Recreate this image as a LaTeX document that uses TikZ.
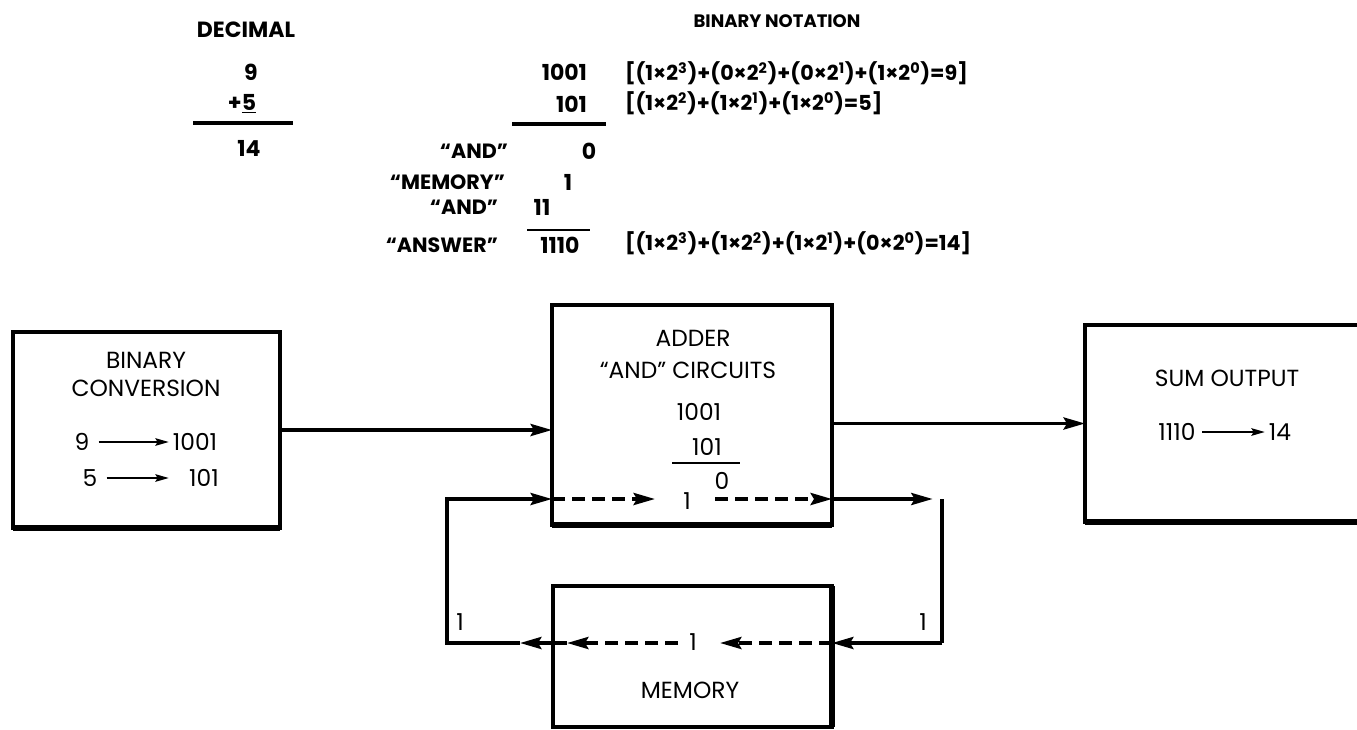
\documentclass[tikz,border=0pt]{standalone}
\usepackage{fontspec}
\setmainfont{Poppins}
\usetikzlibrary{arrows.meta}
\begin{document}
\begin{tikzpicture}[x=0.75pt,y=-0.75pt,
  every node/.style={inner sep=0pt, outer sep=0pt},
  boxf/.style={font=\fontsize{17.5}{19}\selectfont},
  topf/.style={font=\fontsize{15.5}{17}\selectfont\bfseries},
  headf/.style={font=\fontsize{13.5}{15}\selectfont\bfseries},
  numf/.style={font=\fontsize{16.5}{18}\selectfont\bfseries},
  frmf/.style={font=\fontsize{15.5}{17}\selectfont\bfseries},
  frame/.style={draw, line width=3.2pt},
  conn/.style={line width=2.8pt},
  tip/.style={-{Stealth[length=16pt,width=9pt,inset=2.5pt]}},
  smalltip/.style={line width=1.8pt,-{Stealth[length=10pt,width=5.5pt,inset=1.5pt]}},
  dashline/.style={line width=2.8pt, dash pattern=on 10pt off 5pt},
]
\useasboundingbox (0,0) rectangle (1357,729);

% ---------- top: decimal ----------
\node[topf, font=\fontsize{16.5}{18}\selectfont\bfseries] (dec) at (246,30) {DECIMAL};
\node[numf] (d9) at (251,72) {9};
\node[numf] (d5) at (242,104) {+\underline{5}};
\draw[line width=3.2pt] (193,123) -- (293,123);
\node[numf] (d14) at (249,148) {14};

% ---------- top: binary ----------
\node[headf] (bnot) at (777,21) {BINARY NOTATION};
\node[numf,anchor=east] (b1001) at (587,72) {1001};
\node[numf,anchor=east] (b101) at (587,104) {101};
\draw[line width=3.2pt] (512,124) -- (606,124);
\node[topf,anchor=east] (land) at (508,151) {“AND”};
\node[numf] (v0) at (589,151) {0};
\node[topf,anchor=east] (lmem) at (505,182) {“MEMORY”};
\node[numf] (v1) at (568,182) {1};
\node[topf,anchor=east] (land2) at (498,207) {“AND”};
\node[numf] (v11) at (542,207) {11};
\node[topf,anchor=east] (lans) at (498,245) {“ANSWER”};
\node[numf] (v1110) at (560,245) {1110};
\draw[line width=2.2pt] (527,230) -- (590,230);

\node[frmf,anchor=west] (f1) at (625,73) {[(1×2\textsuperscript{3})+(0×2\textsuperscript{2})+(0×2\textsuperscript{1})+(1×2\textsuperscript{0})=9]};
\node[frmf,anchor=west] (f2) at (625,103) {[(1×2\textsuperscript{2})+(1×2\textsuperscript{1})+(1×2\textsuperscript{0})=5]};
\node[frmf,anchor=west] (f3) at (625,243) {[(1×2\textsuperscript{3})+(1×2\textsuperscript{2})+(1×2\textsuperscript{1})+(0×2\textsuperscript{0})=14]};

% ---------- boxes ----------
\node[frame, minimum width=200.25pt, minimum height=147pt] (bc) at (146.5,430) {};
\draw[line width=5pt] (bc.south west) -- (bc.south east);
\node[boxf] (bct1) at (146,360) {BINARY};
\node[boxf] (bct2) at (146,388) {CONVERSION};
\node[boxf] (c9) at (82,442) {9};
\node[boxf] (c1001) at (195,442) {1001};
\node[boxf] (c5) at (90,478) {5};
\node[boxf] (c101) at (204,478) {101};
\draw[smalltip] ([xshift=7pt]c9.east) -- ([xshift=-3pt]c1001.west);
\draw[smalltip] ([xshift=7pt]c5.east |- c5.east) -- ([xshift=-3pt]c1001.west |- c101.west);

\node[frame, minimum width=210pt, minimum height=165pt] (adder) at (692,415) {};
\draw[line width=5pt] (adder.south west) -- (adder.south east);
\node[boxf] (at1) at (693,338) {ADDER};
\node[boxf] (at2) at (688,370) {“AND” CIRCUITS};
\node[boxf] (a1001) at (699,412) {1001};
\node[boxf] (a101) at (707,447) {101};
\draw[line width=1.8pt] (672,463) -- (740,463);
\node[boxf] (a0) at (722,481) {0};

\node[frame, minimum width=209.25pt, minimum height=105.75pt] (mem) at (692.5,656.5) {};
\draw[line width=5pt] (mem.north east) -- (mem.south east);
\node[boxf] (memt) at (690,690) {MEMORY};

\node[minimum width=232.5pt, minimum height=147.75pt] (sum) at (1240,423.5) {};
\draw[frame] (1357,325) -- (sum.north west) -- (sum.south west) -- (1357,522);
\draw[line width=5pt] (sum.south west) -- (1357,522);
\node[boxf] (st1) at (1227,378) {SUM OUTPUT};
\node[boxf] (s1110) at (1177,432) {1110};
\node[boxf] (s14) at (1280,432) {14};
\draw[smalltip] ([xshift=5pt]s1110.east) -- ([xshift=-3pt]s14.west);

% ---------- connectors ----------
\draw[conn,tip] (bc.east) -- (bc.east -| adder.west);
\draw[conn,tip] (adder.east |- sum.west) -- (sum.west);

\coordinate (lt) at (447,499);
\coordinate (lb) at (447,643);
\coordinate (rt) at (942,499);
\coordinate (rb) at (942,643);
\coordinate (d1) at (655,499);
\coordinate (d2) at (715,499);
\coordinate (m1) at (720,643);
\coordinate (m2) at (678,643);
\coordinate (m3) at (567,643);
\coordinate (m4) at (520,643);

\node[boxf] (one1) at (687,501) {1};
\node[boxf] (onem) at (693,642) {1};
\node[boxf] (onel) at (460,622) {1};
\node[boxf] (oner) at (923,622) {1};

\draw[conn,tip] (m4) -- (lb) -- (lt) -- (lt -| adder.west);
\draw[dashline,tip] (lt -| adder.west) -- (d1);
\draw[dashline,tip] (d2) -- (lt -| adder.east);
\draw[conn,tip,shorten >=7pt] (lt -| adder.east) -- (rt);
\draw[conn] (rt) -- (rb);
\draw[conn,tip] (rb) -- (rb -| mem.east);
\draw[dashline,tip] (rb -| mem.east) -- (m1);
\draw[dashline,tip] (m2) -- (m3);
\draw[conn] (m3) -- (lb -| mem.west);
\draw[conn,tip] (lb -| mem.west) -- (m4);
\end{tikzpicture}
\end{document}
